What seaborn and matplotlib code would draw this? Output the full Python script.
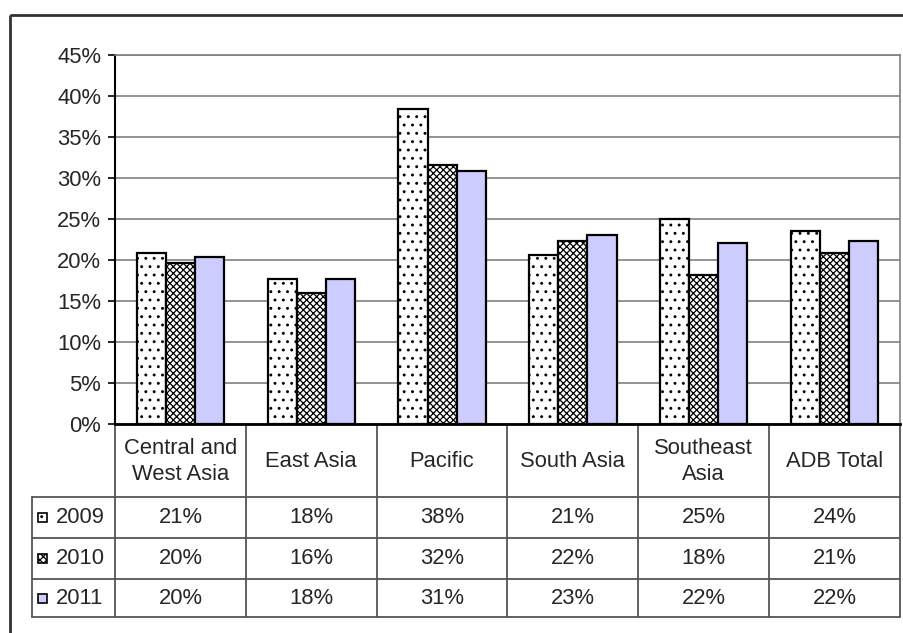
import matplotlib
matplotlib.use("Agg")
import matplotlib.pyplot as plt
from matplotlib.patches import Rectangle
from matplotlib.transforms import blended_transform_factory
import seaborn as sns
import pandas as pd

# ---- data ----
regions = ["Central and\nWest Asia", "East Asia", "Pacific", "South Asia",
           "Southeast\nAsia", "ADB Total"]
years = ["2009", "2010", "2011"]
v2009 = [0.209, 0.177, 0.384, 0.206, 0.250, 0.235]
v2010 = [0.196, 0.160, 0.316, 0.223, 0.182, 0.209]
v2011 = [0.204, 0.177, 0.309, 0.230, 0.221, 0.223]
table_2009 = ["21%", "18%", "38%", "21%", "25%", "24%"]
table_2010 = ["20%", "16%", "32%", "22%", "18%", "21%"]
table_2011 = ["20%", "18%", "31%", "23%", "22%", "22%"]
y_ticks = [0, 0.05, 0.10, 0.15, 0.20, 0.25, 0.30, 0.35, 0.40, 0.45]

values = {"2009": v2009, "2010": v2010, "2011": v2011}
table_vals = {"2009": table_2009, "2010": table_2010, "2011": table_2011}
df = pd.DataFrame([
    {"region": r, "year": y, "value": values[y][i]}
    for y in years for i, r in enumerate(regions)
])

sns.set_theme(style="white")
plt.rcParams["font.family"] = ["Liberation Sans", "DejaVu Sans"]
plt.rcParams["hatch.linewidth"] = 0.9

FS = 15.8
W, H = 904, 633
fig = plt.figure(figsize=(W / 100, H / 100), dpi=100)

# pixel-coordinate overlay axes
tax = fig.add_axes([0, 0, 1, 1])
tax.set_xlim(0, W)
tax.set_ylim(H, 0)
tax.axis("off")
tax.patch.set_visible(False)

x0, x1 = 115, 900
y_top, y_zero = 55, 424
ax = fig.add_axes([x0 / W, 1 - y_zero / H, (x1 - x0) / W, (y_zero - y_top) / H])

fills = {"2009": "white", "2010": "white", "2011": "#CCCCFF"}
hatches = {"2009": "..", "2010": "xxxxx", "2011": None}

sns.barplot(data=df, x="region", y="value", hue="year", order=regions,
            hue_order=years, palette=[fills[y] for y in years],
            width=0.667, gap=0, edgecolor="black", linewidth=1.6,
            saturation=1, legend=False, ax=ax, errorbar=None)
for cont, y in zip(ax.containers, years):
    for bar in cont:
        if hatches[y]:
            bar.set_hatch(hatches[y])

ax.set_xlim(-0.5, len(regions) - 0.5)
ax.set_ylim(0, 0.45)
ax.set_yticks(y_ticks)
ax.set_yticklabels([f"{t:.0%}" for t in y_ticks], fontsize=FS)
ax.set_xticks([])
ax.set_xlabel("")
ax.set_ylabel("")
ax.yaxis.grid(True, color="#808080", lw=1.2)
ax.set_axisbelow(True)
ax.tick_params(axis="y", left=True, length=5, width=1.2, color="black", pad=5)
for s in ["top", "right"]:
    ax.spines[s].set_color("#808080")
    ax.spines[s].set_linewidth(1.2)
ax.spines["left"].set_color("black")
ax.spines["left"].set_linewidth(1.5)
ax.spines["bottom"].set_color("black")
ax.spines["bottom"].set_linewidth(2)

# ---- data table below the axis ----
tr = blended_transform_factory(ax.transData, tax.transData)
line_c = "#555555"
lw = 1.3
tbl_left, head_bot = 32, 497
row_edges = [497, 538, 579, 617]
n = len(regions)

# vertical dividers (aligned with category boundaries)
for i in range(n + 1):
    tax.plot([i - 0.5, i - 0.5], [y_zero, row_edges[-1]], color=line_c, lw=lw,
             transform=tr, clip_on=False)
# horizontal lines
for yy in row_edges:
    tax.plot([tbl_left, x1], [yy, yy], color=line_c, lw=lw, clip_on=False)
tax.plot([tbl_left, tbl_left], [row_edges[0], row_edges[-1]], color=line_c,
         lw=lw, clip_on=False)

# header labels
for i, r in enumerate(regions):
    tax.text(i, (y_zero + head_bot) / 2 + 1, r, transform=tr, ha="center",
             va="center", fontsize=FS, linespacing=1.35)

# rows
for k, y in enumerate(years):
    yc = (row_edges[k] + row_edges[k + 1]) / 2
    sq = 9
    tax.add_patch(Rectangle((38, yc - sq / 2), sq, sq, facecolor=fills[y],
                            edgecolor="black", lw=1.2, hatch=hatches[y]))
    tax.text(56, yc, y, ha="left", va="center", fontsize=FS)
    for i in range(n):
        tax.text(i, yc, table_vals[y][i], transform=tr, ha="center",
                 va="center", fontsize=FS)

# outer chart border (extends past right and bottom of image)
tax.add_patch(Rectangle((10, 15), 1000, 700, fill=False, edgecolor="#333333",
                        lw=2, clip_on=False))

fig.savefig("out.png", dpi=100)
